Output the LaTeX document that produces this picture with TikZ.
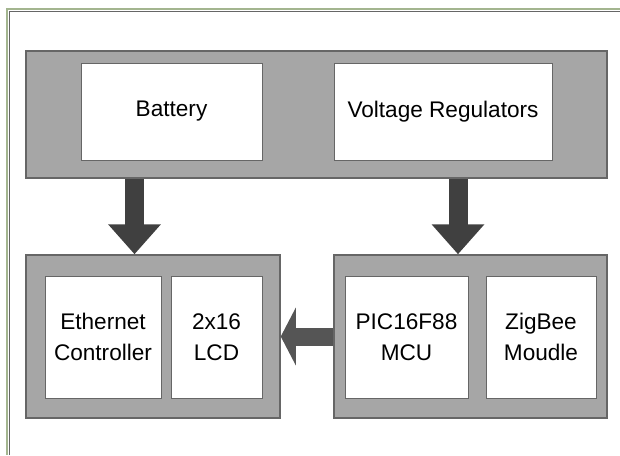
\documentclass[tikz,border=0pt]{standalone}
\usepackage{fontspec}
\setmainfont{Liberation Sans}
\usetikzlibrary{arrows.meta}
\definecolor{panelgray}{HTML}{A6A6A6}
\definecolor{edgegray}{HTML}{666666}
\definecolor{arrowdark}{HTML}{404040}
\definecolor{arrowmid}{HTML}{555555}
\definecolor{framegreen}{HTML}{A3B58F}
\begin{document}
\begin{tikzpicture}[
  x=1pt, y=-1pt,
  every node/.style={font=\fontsize{22.6}{30.7}\selectfont, align=center, inner sep=0pt},
  panel/.style={draw=edgegray, line width=1.5pt, fill=panelgray},
  unit/.style={draw=edgegray, line width=1pt, fill=white, minimum height=122pt},
  bigarrow/.style={line width=19pt, -{Triangle[length=30pt,width=51pt]}}
]
\useasboundingbox (0,0) rectangle (620,455);
\draw[framegreen, line width=2.5pt] (7,455) -- (7,9) -- (620,9);
\draw[edgegray, line width=0.6pt] (8.8,455) -- (8.8,10.8) -- (620,10.8);
\node[panel, minimum width=581pt, minimum height=127pt] (power) at (316.5,114.5) {};
\node[unit, minimum width=181pt, minimum height=97pt] (bat) at (171.5,111.5) {Battery};
\node[unit, minimum width=218pt, minimum height=97pt] (reg) at (443,111.5) {Voltage Regulators};
\node[panel, minimum width=254pt, minimum height=163pt] (disp) at (153,336.5) {};
\node[unit, minimum width=116pt] (eth) at (103,337) {Ethernet\\Controller};
\node[unit, minimum width=91pt] (lcd) at (216.5,337) {2x16\\LCD};
\node[panel, minimum width=273pt, minimum height=163pt] (ctrl) at (470.5,336.5) {};
\node[unit, minimum width=123pt] (mcu) at (406.5,337) {PIC16F88\\MCU};
\node[unit, minimum width=110pt] (zig) at (541,337) {ZigBee\\Moudle};
\coordinate (pl) at (134.5,0);
\coordinate (pr) at (458,0);
\draw[bigarrow, arrowdark] (power.south -| pl) -- (disp.north -| pl);
\draw[bigarrow, arrowdark] (power.south -| pr) -- (ctrl.north -| pr);
\draw[line width=18pt, arrowmid, -{Triangle[length=15pt,width=57pt]}] (ctrl.west) -- (disp.east);
\end{tikzpicture}
\end{document}
